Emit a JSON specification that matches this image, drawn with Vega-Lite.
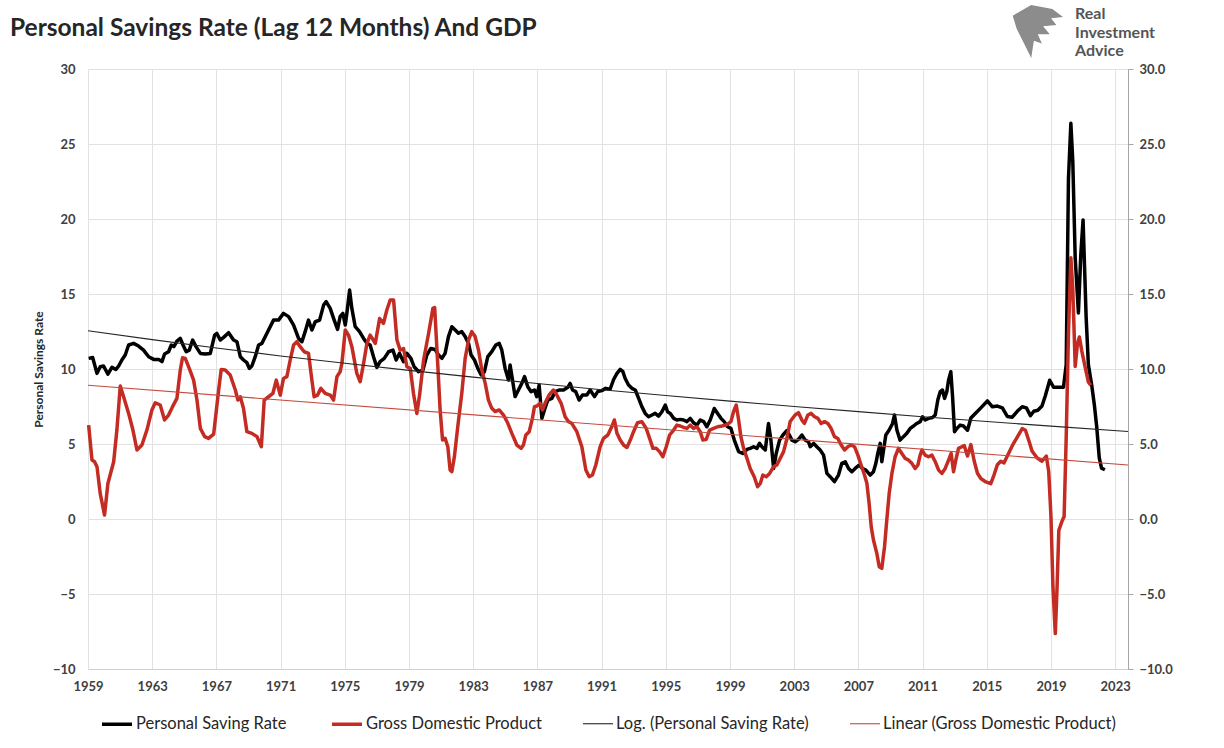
{
  "$schema": "https://vega.github.io/schema/vega-lite/v6.json",
  "width": 1040,
  "height": 600,
  "autosize": {"type": "none"},
  "padding": {"left": 88, "top": 69, "right": 96, "bottom": 79},
  "background": "white",
  "title": {"text": "Personal Savings Rate (Lag 12 Months) And GDP", "anchor": "start", "frame": "group", "dx": -78, "dy": 58, "offset": 22, "fontSize": 24.5, "font": "Lato", "fontWeight": "bold", "color": "#262626"},
  "config": {
    "view": {"stroke": null},
    "font": "Lato",
    "axis": {"labelFont": "Lato", "labelFontSize": 13, "labelColor": "#404040", "gridColor": "#e2e2e2", "gridWidth": 1, "titleFont": "Lato"},
    "legend": {"labelFont": "Lato"}
  },
  "data": {"values": [
    {"s":"Personal Saving Rate","t":1959.04,"v":10.71},{"s":"Personal Saving Rate","t":1959.29,"v":10.77},{"s":"Personal Saving Rate","t":1959.56,"v":9.71},{"s":"Personal Saving Rate","t":1959.76,"v":10.15},{"s":"Personal Saving Rate","t":1959.97,"v":10.2},{"s":"Personal Saving Rate","t":1960.24,"v":9.66},{"s":"Personal Saving Rate","t":1960.49,"v":10.11},{"s":"Personal Saving Rate","t":1960.74,"v":9.97},{"s":"Personal Saving Rate","t":1960.91,"v":10.2},{"s":"Personal Saving Rate","t":1961.11,"v":10.6},{"s":"Personal Saving Rate","t":1961.32,"v":10.93},{"s":"Personal Saving Rate","t":1961.53,"v":11.6},{"s":"Personal Saving Rate","t":1961.84,"v":11.71},{"s":"Personal Saving Rate","t":1962.15,"v":11.53},{"s":"Personal Saving Rate","t":1962.46,"v":11.26},{"s":"Personal Saving Rate","t":1962.78,"v":10.82},{"s":"Personal Saving Rate","t":1963.09,"v":10.64},{"s":"Personal Saving Rate","t":1963.4,"v":10.64},{"s":"Personal Saving Rate","t":1963.61,"v":10.49},{"s":"Personal Saving Rate","t":1963.77,"v":11.0},{"s":"Personal Saving Rate","t":1964.02,"v":11.15},{"s":"Personal Saving Rate","t":1964.19,"v":11.6},{"s":"Personal Saving Rate","t":1964.35,"v":11.49},{"s":"Personal Saving Rate","t":1964.54,"v":11.86},{"s":"Personal Saving Rate","t":1964.75,"v":12.04},{"s":"Personal Saving Rate","t":1964.92,"v":11.6},{"s":"Personal Saving Rate","t":1965.12,"v":11.15},{"s":"Personal Saving Rate","t":1965.31,"v":11.26},{"s":"Personal Saving Rate","t":1965.52,"v":11.93},{"s":"Personal Saving Rate","t":1965.73,"v":11.49},{"s":"Personal Saving Rate","t":1966.0,"v":11.04},{"s":"Personal Saving Rate","t":1966.31,"v":11.0},{"s":"Personal Saving Rate","t":1966.62,"v":11.04},{"s":"Personal Saving Rate","t":1966.89,"v":12.26},{"s":"Personal Saving Rate","t":1967.03,"v":12.37},{"s":"Personal Saving Rate","t":1967.24,"v":11.93},{"s":"Personal Saving Rate","t":1967.45,"v":12.11},{"s":"Personal Saving Rate","t":1967.76,"v":12.42},{"s":"Personal Saving Rate","t":1968.07,"v":11.93},{"s":"Personal Saving Rate","t":1968.28,"v":11.82},{"s":"Personal Saving Rate","t":1968.49,"v":10.82},{"s":"Personal Saving Rate","t":1968.69,"v":10.6},{"s":"Personal Saving Rate","t":1968.9,"v":10.42},{"s":"Personal Saving Rate","t":1969.05,"v":10.04},{"s":"Personal Saving Rate","t":1969.21,"v":10.2},{"s":"Personal Saving Rate","t":1969.42,"v":10.82},{"s":"Personal Saving Rate","t":1969.63,"v":11.6},{"s":"Personal Saving Rate","t":1969.84,"v":11.71},{"s":"Personal Saving Rate","t":1969.94,"v":11.93},{"s":"Personal Saving Rate","t":1970.25,"v":12.6},{"s":"Personal Saving Rate","t":1970.56,"v":13.26},{"s":"Personal Saving Rate","t":1970.87,"v":13.26},{"s":"Personal Saving Rate","t":1971.18,"v":13.71},{"s":"Personal Saving Rate","t":1971.5,"v":13.49},{"s":"Personal Saving Rate","t":1971.81,"v":12.93},{"s":"Personal Saving Rate","t":1972.12,"v":12.04},{"s":"Personal Saving Rate","t":1972.33,"v":11.82},{"s":"Personal Saving Rate","t":1972.53,"v":12.49},{"s":"Personal Saving Rate","t":1972.74,"v":13.26},{"s":"Personal Saving Rate","t":1972.95,"v":12.6},{"s":"Personal Saving Rate","t":1973.16,"v":13.15},{"s":"Personal Saving Rate","t":1973.43,"v":13.26},{"s":"Personal Saving Rate","t":1973.68,"v":14.26},{"s":"Personal Saving Rate","t":1973.84,"v":14.49},{"s":"Personal Saving Rate","t":1974.09,"v":14.04},{"s":"Personal Saving Rate","t":1974.34,"v":13.26},{"s":"Personal Saving Rate","t":1974.55,"v":12.64},{"s":"Personal Saving Rate","t":1974.71,"v":13.49},{"s":"Personal Saving Rate","t":1974.88,"v":13.71},{"s":"Personal Saving Rate","t":1975.03,"v":12.93},{"s":"Personal Saving Rate","t":1975.13,"v":13.71},{"s":"Personal Saving Rate","t":1975.3,"v":15.26},{"s":"Personal Saving Rate","t":1975.44,"v":14.04},{"s":"Personal Saving Rate","t":1975.65,"v":12.82},{"s":"Personal Saving Rate","t":1975.92,"v":12.49},{"s":"Personal Saving Rate","t":1976.17,"v":12.04},{"s":"Personal Saving Rate","t":1976.38,"v":11.71},{"s":"Personal Saving Rate","t":1976.58,"v":11.6},{"s":"Personal Saving Rate","t":1976.79,"v":10.82},{"s":"Personal Saving Rate","t":1977.0,"v":10.11},{"s":"Personal Saving Rate","t":1977.2,"v":10.49},{"s":"Personal Saving Rate","t":1977.46,"v":10.71},{"s":"Personal Saving Rate","t":1977.73,"v":11.15},{"s":"Personal Saving Rate","t":1978.0,"v":11.26},{"s":"Personal Saving Rate","t":1978.2,"v":10.6},{"s":"Personal Saving Rate","t":1978.41,"v":11.04},{"s":"Personal Saving Rate","t":1978.66,"v":10.49},{"s":"Personal Saving Rate","t":1978.87,"v":11.04},{"s":"Personal Saving Rate","t":1979.12,"v":10.71},{"s":"Personal Saving Rate","t":1979.32,"v":10.15},{"s":"Personal Saving Rate","t":1979.6,"v":9.82},{"s":"Personal Saving Rate","t":1979.87,"v":9.93},{"s":"Personal Saving Rate","t":1980.11,"v":10.93},{"s":"Personal Saving Rate","t":1980.36,"v":11.37},{"s":"Personal Saving Rate","t":1980.63,"v":11.3},{"s":"Personal Saving Rate","t":1980.84,"v":10.93},{"s":"Personal Saving Rate","t":1981.05,"v":10.71},{"s":"Personal Saving Rate","t":1981.25,"v":11.04},{"s":"Personal Saving Rate","t":1981.46,"v":12.16},{"s":"Personal Saving Rate","t":1981.67,"v":12.82},{"s":"Personal Saving Rate","t":1981.88,"v":12.6},{"s":"Personal Saving Rate","t":1982.08,"v":12.38},{"s":"Personal Saving Rate","t":1982.29,"v":12.49},{"s":"Personal Saving Rate","t":1982.5,"v":12.16},{"s":"Personal Saving Rate","t":1982.71,"v":11.71},{"s":"Personal Saving Rate","t":1982.87,"v":10.93},{"s":"Personal Saving Rate","t":1983.08,"v":10.6},{"s":"Personal Saving Rate","t":1983.29,"v":10.04},{"s":"Personal Saving Rate","t":1983.5,"v":9.6},{"s":"Personal Saving Rate","t":1983.7,"v":9.82},{"s":"Personal Saving Rate","t":1983.91,"v":10.82},{"s":"Personal Saving Rate","t":1984.16,"v":11.16},{"s":"Personal Saving Rate","t":1984.41,"v":11.6},{"s":"Personal Saving Rate","t":1984.62,"v":11.71},{"s":"Personal Saving Rate","t":1984.78,"v":11.27},{"s":"Personal Saving Rate","t":1984.99,"v":10.04},{"s":"Personal Saving Rate","t":1985.2,"v":9.27},{"s":"Personal Saving Rate","t":1985.3,"v":10.27},{"s":"Personal Saving Rate","t":1985.45,"v":9.27},{"s":"Personal Saving Rate","t":1985.61,"v":8.16},{"s":"Personal Saving Rate","t":1985.82,"v":8.6},{"s":"Personal Saving Rate","t":1986.03,"v":9.04},{"s":"Personal Saving Rate","t":1986.2,"v":9.49},{"s":"Personal Saving Rate","t":1986.4,"v":8.82},{"s":"Personal Saving Rate","t":1986.61,"v":8.49},{"s":"Personal Saving Rate","t":1986.82,"v":8.6},{"s":"Personal Saving Rate","t":1986.96,"v":8.16},{"s":"Personal Saving Rate","t":1987.11,"v":8.93},{"s":"Personal Saving Rate","t":1987.28,"v":6.71},{"s":"Personal Saving Rate","t":1987.44,"v":7.27},{"s":"Personal Saving Rate","t":1987.65,"v":7.93},{"s":"Personal Saving Rate","t":1987.9,"v":8.04},{"s":"Personal Saving Rate","t":1988.11,"v":8.49},{"s":"Personal Saving Rate","t":1988.36,"v":8.6},{"s":"Personal Saving Rate","t":1988.63,"v":8.6},{"s":"Personal Saving Rate","t":1988.9,"v":8.78},{"s":"Personal Saving Rate","t":1989.04,"v":9.04},{"s":"Personal Saving Rate","t":1989.19,"v":8.6},{"s":"Personal Saving Rate","t":1989.39,"v":8.49},{"s":"Personal Saving Rate","t":1989.6,"v":7.93},{"s":"Personal Saving Rate","t":1989.81,"v":8.27},{"s":"Personal Saving Rate","t":1990.08,"v":8.27},{"s":"Personal Saving Rate","t":1990.29,"v":8.6},{"s":"Personal Saving Rate","t":1990.56,"v":8.16},{"s":"Personal Saving Rate","t":1990.76,"v":8.49},{"s":"Personal Saving Rate","t":1991.01,"v":8.56},{"s":"Personal Saving Rate","t":1991.26,"v":8.71},{"s":"Personal Saving Rate","t":1991.53,"v":8.65},{"s":"Personal Saving Rate","t":1991.75,"v":9.3},{"s":"Personal Saving Rate","t":1991.96,"v":9.71},{"s":"Personal Saving Rate","t":1992.16,"v":9.97},{"s":"Personal Saving Rate","t":1992.33,"v":9.82},{"s":"Personal Saving Rate","t":1992.47,"v":9.37},{"s":"Personal Saving Rate","t":1992.68,"v":8.93},{"s":"Personal Saving Rate","t":1992.89,"v":8.71},{"s":"Personal Saving Rate","t":1993.1,"v":8.6},{"s":"Personal Saving Rate","t":1993.31,"v":8.04},{"s":"Personal Saving Rate","t":1993.51,"v":7.49},{"s":"Personal Saving Rate","t":1993.72,"v":7.04},{"s":"Personal Saving Rate","t":1993.93,"v":6.82},{"s":"Personal Saving Rate","t":1994.14,"v":6.93},{"s":"Personal Saving Rate","t":1994.34,"v":7.04},{"s":"Personal Saving Rate","t":1994.55,"v":6.86},{"s":"Personal Saving Rate","t":1994.76,"v":7.15},{"s":"Personal Saving Rate","t":1994.97,"v":7.6},{"s":"Personal Saving Rate","t":1995.11,"v":7.15},{"s":"Personal Saving Rate","t":1995.28,"v":7.04},{"s":"Personal Saving Rate","t":1995.49,"v":6.71},{"s":"Personal Saving Rate","t":1995.69,"v":6.6},{"s":"Personal Saving Rate","t":1995.9,"v":6.64},{"s":"Personal Saving Rate","t":1996.11,"v":6.6},{"s":"Personal Saving Rate","t":1996.32,"v":6.49},{"s":"Personal Saving Rate","t":1996.52,"v":6.71},{"s":"Personal Saving Rate","t":1996.73,"v":6.42},{"s":"Personal Saving Rate","t":1996.94,"v":6.26},{"s":"Personal Saving Rate","t":1997.15,"v":6.6},{"s":"Personal Saving Rate","t":1997.36,"v":6.49},{"s":"Personal Saving Rate","t":1997.56,"v":6.15},{"s":"Personal Saving Rate","t":1997.77,"v":6.6},{"s":"Personal Saving Rate","t":1998.02,"v":7.37},{"s":"Personal Saving Rate","t":1998.23,"v":7.04},{"s":"Personal Saving Rate","t":1998.44,"v":6.71},{"s":"Personal Saving Rate","t":1998.64,"v":6.49},{"s":"Personal Saving Rate","t":1998.85,"v":6.15},{"s":"Personal Saving Rate","t":1999.06,"v":6.04},{"s":"Personal Saving Rate","t":1999.27,"v":5.26},{"s":"Personal Saving Rate","t":1999.54,"v":4.49},{"s":"Personal Saving Rate","t":1999.8,"v":4.37},{"s":"Personal Saving Rate","t":2000.06,"v":4.64},{"s":"Personal Saving Rate","t":2000.26,"v":4.71},{"s":"Personal Saving Rate","t":2000.47,"v":4.82},{"s":"Personal Saving Rate","t":2000.68,"v":4.71},{"s":"Personal Saving Rate","t":2000.84,"v":5.04},{"s":"Personal Saving Rate","t":2000.99,"v":4.82},{"s":"Personal Saving Rate","t":2001.2,"v":4.6},{"s":"Personal Saving Rate","t":2001.4,"v":6.37},{"s":"Personal Saving Rate","t":2001.55,"v":5.26},{"s":"Personal Saving Rate","t":2001.72,"v":3.37},{"s":"Personal Saving Rate","t":2001.88,"v":4.37},{"s":"Personal Saving Rate","t":2002.09,"v":5.26},{"s":"Personal Saving Rate","t":2002.3,"v":5.6},{"s":"Personal Saving Rate","t":2002.55,"v":5.9},{"s":"Personal Saving Rate","t":2002.7,"v":5.6},{"s":"Personal Saving Rate","t":2002.86,"v":5.26},{"s":"Personal Saving Rate","t":2003.06,"v":5.15},{"s":"Personal Saving Rate","t":2003.27,"v":5.31},{"s":"Personal Saving Rate","t":2003.48,"v":5.6},{"s":"Personal Saving Rate","t":2003.69,"v":5.26},{"s":"Personal Saving Rate","t":2003.89,"v":5.15},{"s":"Personal Saving Rate","t":2004.0,"v":4.82},{"s":"Personal Saving Rate","t":2004.21,"v":5.04},{"s":"Personal Saving Rate","t":2004.41,"v":4.82},{"s":"Personal Saving Rate","t":2004.62,"v":4.6},{"s":"Personal Saving Rate","t":2004.83,"v":4.26},{"s":"Personal Saving Rate","t":2005.04,"v":3.04},{"s":"Personal Saving Rate","t":2005.24,"v":2.82},{"s":"Personal Saving Rate","t":2005.51,"v":2.49},{"s":"Personal Saving Rate","t":2005.76,"v":2.93},{"s":"Personal Saving Rate","t":2005.97,"v":3.71},{"s":"Personal Saving Rate","t":2006.18,"v":3.82},{"s":"Personal Saving Rate","t":2006.39,"v":3.37},{"s":"Personal Saving Rate","t":2006.59,"v":3.15},{"s":"Personal Saving Rate","t":2006.8,"v":3.37},{"s":"Personal Saving Rate","t":2007.05,"v":3.6},{"s":"Personal Saving Rate","t":2007.26,"v":3.37},{"s":"Personal Saving Rate","t":2007.47,"v":3.26},{"s":"Personal Saving Rate","t":2007.74,"v":2.93},{"s":"Personal Saving Rate","t":2007.94,"v":3.15},{"s":"Personal Saving Rate","t":2008.09,"v":3.71},{"s":"Personal Saving Rate","t":2008.21,"v":4.37},{"s":"Personal Saving Rate","t":2008.36,"v":5.04},{"s":"Personal Saving Rate","t":2008.46,"v":3.82},{"s":"Personal Saving Rate","t":2008.57,"v":4.6},{"s":"Personal Saving Rate","t":2008.71,"v":5.6},{"s":"Personal Saving Rate","t":2008.92,"v":5.93},{"s":"Personal Saving Rate","t":2009.13,"v":6.37},{"s":"Personal Saving Rate","t":2009.25,"v":6.93},{"s":"Personal Saving Rate","t":2009.4,"v":5.93},{"s":"Personal Saving Rate","t":2009.6,"v":5.26},{"s":"Personal Saving Rate","t":2009.81,"v":5.49},{"s":"Personal Saving Rate","t":2010.02,"v":5.71},{"s":"Personal Saving Rate","t":2010.23,"v":6.04},{"s":"Personal Saving Rate","t":2010.44,"v":6.2},{"s":"Personal Saving Rate","t":2010.64,"v":6.37},{"s":"Personal Saving Rate","t":2010.85,"v":6.49},{"s":"Personal Saving Rate","t":2011.0,"v":6.82},{"s":"Personal Saving Rate","t":2011.16,"v":6.6},{"s":"Personal Saving Rate","t":2011.37,"v":6.71},{"s":"Personal Saving Rate","t":2011.62,"v":6.77},{"s":"Personal Saving Rate","t":2011.79,"v":6.93},{"s":"Personal Saving Rate","t":2011.95,"v":7.93},{"s":"Personal Saving Rate","t":2012.1,"v":8.49},{"s":"Personal Saving Rate","t":2012.24,"v":8.6},{"s":"Personal Saving Rate","t":2012.37,"v":8.04},{"s":"Personal Saving Rate","t":2012.51,"v":8.49},{"s":"Personal Saving Rate","t":2012.62,"v":9.26},{"s":"Personal Saving Rate","t":2012.76,"v":9.82},{"s":"Personal Saving Rate","t":2012.87,"v":8.15},{"s":"Personal Saving Rate","t":2012.99,"v":5.82},{"s":"Personal Saving Rate","t":2013.14,"v":6.04},{"s":"Personal Saving Rate","t":2013.34,"v":6.26},{"s":"Personal Saving Rate","t":2013.55,"v":6.2},{"s":"Personal Saving Rate","t":2013.8,"v":5.92},{"s":"Personal Saving Rate","t":2014.01,"v":6.73},{"s":"Personal Saving Rate","t":2014.32,"v":7.07},{"s":"Personal Saving Rate","t":2014.63,"v":7.41},{"s":"Personal Saving Rate","t":2015.04,"v":7.87},{"s":"Personal Saving Rate","t":2015.35,"v":7.48},{"s":"Personal Saving Rate","t":2015.66,"v":7.53},{"s":"Personal Saving Rate","t":2015.97,"v":7.41},{"s":"Personal Saving Rate","t":2016.28,"v":6.84},{"s":"Personal Saving Rate","t":2016.59,"v":6.79},{"s":"Personal Saving Rate","t":2016.9,"v":7.18},{"s":"Personal Saving Rate","t":2017.21,"v":7.48},{"s":"Personal Saving Rate","t":2017.47,"v":7.41},{"s":"Personal Saving Rate","t":2017.72,"v":6.89},{"s":"Personal Saving Rate","t":2017.93,"v":7.18},{"s":"Personal Saving Rate","t":2018.18,"v":7.25},{"s":"Personal Saving Rate","t":2018.44,"v":7.53},{"s":"Personal Saving Rate","t":2018.65,"v":8.22},{"s":"Personal Saving Rate","t":2018.92,"v":9.25},{"s":"Personal Saving Rate","t":2019.16,"v":8.79},{"s":"Personal Saving Rate","t":2019.47,"v":8.79},{"s":"Personal Saving Rate","t":2019.78,"v":8.79},{"s":"Personal Saving Rate","t":2019.95,"v":10.29},{"s":"Personal Saving Rate","t":2020.09,"v":22.7},{"s":"Personal Saving Rate","t":2020.24,"v":26.38},{"s":"Personal Saving Rate","t":2020.36,"v":23.85},{"s":"Personal Saving Rate","t":2020.51,"v":17.41},{"s":"Personal Saving Rate","t":2020.71,"v":13.74},{"s":"Personal Saving Rate","t":2020.86,"v":17.64},{"s":"Personal Saving Rate","t":2021.0,"v":19.94},{"s":"Personal Saving Rate","t":2021.19,"v":13.51},{"s":"Personal Saving Rate","t":2021.33,"v":10.29},{"s":"Personal Saving Rate","t":2021.54,"v":8.91},{"s":"Personal Saving Rate","t":2021.7,"v":7.64},{"s":"Personal Saving Rate","t":2021.85,"v":6.15},{"s":"Personal Saving Rate","t":2022.01,"v":4.08},{"s":"Personal Saving Rate","t":2022.15,"v":3.39},{"s":"Personal Saving Rate","t":2022.36,"v":3.28},
    {"s":"Gross Domestic Product","t":1959.04,"v":6.26},{"s":"Gross Domestic Product","t":1959.25,"v":3.93},{"s":"Gross Domestic Product","t":1959.41,"v":3.82},{"s":"Gross Domestic Product","t":1959.56,"v":3.49},{"s":"Gross Domestic Product","t":1959.76,"v":1.71},{"s":"Gross Domestic Product","t":1960.03,"v":0.26},{"s":"Gross Domestic Product","t":1960.24,"v":2.37},{"s":"Gross Domestic Product","t":1960.6,"v":3.82},{"s":"Gross Domestic Product","t":1960.8,"v":5.93},{"s":"Gross Domestic Product","t":1961.01,"v":8.86},{"s":"Gross Domestic Product","t":1961.22,"v":8.15},{"s":"Gross Domestic Product","t":1961.53,"v":7.04},{"s":"Gross Domestic Product","t":1961.8,"v":5.93},{"s":"Gross Domestic Product","t":1962.05,"v":4.6},{"s":"Gross Domestic Product","t":1962.36,"v":4.93},{"s":"Gross Domestic Product","t":1962.67,"v":5.93},{"s":"Gross Domestic Product","t":1962.98,"v":7.26},{"s":"Gross Domestic Product","t":1963.19,"v":7.75},{"s":"Gross Domestic Product","t":1963.5,"v":7.6},{"s":"Gross Domestic Product","t":1963.77,"v":6.6},{"s":"Gross Domestic Product","t":1964.02,"v":6.93},{"s":"Gross Domestic Product","t":1964.27,"v":7.49},{"s":"Gross Domestic Product","t":1964.54,"v":8.04},{"s":"Gross Domestic Product","t":1964.75,"v":9.93},{"s":"Gross Domestic Product","t":1964.89,"v":10.75},{"s":"Gross Domestic Product","t":1965.06,"v":10.71},{"s":"Gross Domestic Product","t":1965.31,"v":10.04},{"s":"Gross Domestic Product","t":1965.58,"v":9.26},{"s":"Gross Domestic Product","t":1965.79,"v":7.93},{"s":"Gross Domestic Product","t":1966.0,"v":6.04},{"s":"Gross Domestic Product","t":1966.27,"v":5.49},{"s":"Gross Domestic Product","t":1966.51,"v":5.37},{"s":"Gross Domestic Product","t":1966.83,"v":5.66},{"s":"Gross Domestic Product","t":1967.14,"v":8.6},{"s":"Gross Domestic Product","t":1967.3,"v":9.97},{"s":"Gross Domestic Product","t":1967.55,"v":9.93},{"s":"Gross Domestic Product","t":1967.86,"v":9.6},{"s":"Gross Domestic Product","t":1968.18,"v":8.6},{"s":"Gross Domestic Product","t":1968.34,"v":7.93},{"s":"Gross Domestic Product","t":1968.49,"v":8.15},{"s":"Gross Domestic Product","t":1968.69,"v":7.37},{"s":"Gross Domestic Product","t":1968.9,"v":5.82},{"s":"Gross Domestic Product","t":1969.21,"v":5.71},{"s":"Gross Domestic Product","t":1969.53,"v":5.49},{"s":"Gross Domestic Product","t":1969.8,"v":4.82},{"s":"Gross Domestic Product","t":1969.98,"v":7.93},{"s":"Gross Domestic Product","t":1970.25,"v":8.15},{"s":"Gross Domestic Product","t":1970.52,"v":8.37},{"s":"Gross Domestic Product","t":1970.73,"v":9.26},{"s":"Gross Domestic Product","t":1970.98,"v":8.26},{"s":"Gross Domestic Product","t":1971.18,"v":9.37},{"s":"Gross Domestic Product","t":1971.39,"v":9.49},{"s":"Gross Domestic Product","t":1971.6,"v":10.6},{"s":"Gross Domestic Product","t":1971.81,"v":11.6},{"s":"Gross Domestic Product","t":1972.01,"v":11.82},{"s":"Gross Domestic Product","t":1972.22,"v":11.49},{"s":"Gross Domestic Product","t":1972.47,"v":11.15},{"s":"Gross Domestic Product","t":1972.74,"v":11.04},{"s":"Gross Domestic Product","t":1972.95,"v":9.26},{"s":"Gross Domestic Product","t":1973.09,"v":8.15},{"s":"Gross Domestic Product","t":1973.3,"v":8.26},{"s":"Gross Domestic Product","t":1973.51,"v":8.71},{"s":"Gross Domestic Product","t":1973.78,"v":8.37},{"s":"Gross Domestic Product","t":1974.09,"v":8.26},{"s":"Gross Domestic Product","t":1974.3,"v":7.93},{"s":"Gross Domestic Product","t":1974.51,"v":9.49},{"s":"Gross Domestic Product","t":1974.71,"v":9.82},{"s":"Gross Domestic Product","t":1974.82,"v":10.37},{"s":"Gross Domestic Product","t":1975.03,"v":12.6},{"s":"Gross Domestic Product","t":1975.23,"v":12.26},{"s":"Gross Domestic Product","t":1975.44,"v":11.49},{"s":"Gross Domestic Product","t":1975.75,"v":9.71},{"s":"Gross Domestic Product","t":1975.96,"v":9.15},{"s":"Gross Domestic Product","t":1976.17,"v":10.37},{"s":"Gross Domestic Product","t":1976.38,"v":11.71},{"s":"Gross Domestic Product","t":1976.58,"v":12.26},{"s":"Gross Domestic Product","t":1976.9,"v":11.71},{"s":"Gross Domestic Product","t":1977.17,"v":13.37},{"s":"Gross Domestic Product","t":1977.41,"v":13.04},{"s":"Gross Domestic Product","t":1977.62,"v":13.93},{"s":"Gross Domestic Product","t":1977.83,"v":14.6},{"s":"Gross Domestic Product","t":1978.04,"v":14.6},{"s":"Gross Domestic Product","t":1978.25,"v":11.93},{"s":"Gross Domestic Product","t":1978.45,"v":11.26},{"s":"Gross Domestic Product","t":1978.66,"v":11.37},{"s":"Gross Domestic Product","t":1978.87,"v":10.15},{"s":"Gross Domestic Product","t":1979.08,"v":10.04},{"s":"Gross Domestic Product","t":1979.28,"v":8.37},{"s":"Gross Domestic Product","t":1979.49,"v":7.04},{"s":"Gross Domestic Product","t":1979.66,"v":8.26},{"s":"Gross Domestic Product","t":1979.91,"v":10.6},{"s":"Gross Domestic Product","t":1980.22,"v":12.37},{"s":"Gross Domestic Product","t":1980.49,"v":14.04},{"s":"Gross Domestic Product","t":1980.6,"v":14.1},{"s":"Gross Domestic Product","t":1980.8,"v":10.16},{"s":"Gross Domestic Product","t":1980.94,"v":7.27},{"s":"Gross Domestic Product","t":1981.09,"v":5.27},{"s":"Gross Domestic Product","t":1981.25,"v":5.38},{"s":"Gross Domestic Product","t":1981.42,"v":4.82},{"s":"Gross Domestic Product","t":1981.56,"v":3.27},{"s":"Gross Domestic Product","t":1981.67,"v":3.16},{"s":"Gross Domestic Product","t":1981.83,"v":4.16},{"s":"Gross Domestic Product","t":1982.04,"v":6.16},{"s":"Gross Domestic Product","t":1982.29,"v":8.38},{"s":"Gross Domestic Product","t":1982.5,"v":10.71},{"s":"Gross Domestic Product","t":1982.71,"v":11.93},{"s":"Gross Domestic Product","t":1982.91,"v":12.49},{"s":"Gross Domestic Product","t":1983.12,"v":12.16},{"s":"Gross Domestic Product","t":1983.33,"v":11.27},{"s":"Gross Domestic Product","t":1983.54,"v":9.93},{"s":"Gross Domestic Product","t":1983.75,"v":9.04},{"s":"Gross Domestic Product","t":1983.95,"v":7.93},{"s":"Gross Domestic Product","t":1984.16,"v":7.38},{"s":"Gross Domestic Product","t":1984.37,"v":7.16},{"s":"Gross Domestic Product","t":1984.62,"v":7.27},{"s":"Gross Domestic Product","t":1984.89,"v":6.93},{"s":"Gross Domestic Product","t":1985.16,"v":6.38},{"s":"Gross Domestic Product","t":1985.41,"v":5.71},{"s":"Gross Domestic Product","t":1985.72,"v":4.93},{"s":"Gross Domestic Product","t":1985.99,"v":4.71},{"s":"Gross Domestic Product","t":1986.13,"v":4.93},{"s":"Gross Domestic Product","t":1986.28,"v":5.6},{"s":"Gross Domestic Product","t":1986.49,"v":5.82},{"s":"Gross Domestic Product","t":1986.69,"v":6.71},{"s":"Gross Domestic Product","t":1986.82,"v":7.49},{"s":"Gross Domestic Product","t":1986.96,"v":7.53},{"s":"Gross Domestic Product","t":1987.17,"v":7.71},{"s":"Gross Domestic Product","t":1987.32,"v":7.27},{"s":"Gross Domestic Product","t":1987.52,"v":7.82},{"s":"Gross Domestic Product","t":1987.73,"v":8.27},{"s":"Gross Domestic Product","t":1988.0,"v":8.6},{"s":"Gross Domestic Product","t":1988.21,"v":8.27},{"s":"Gross Domestic Product","t":1988.48,"v":7.71},{"s":"Gross Domestic Product","t":1988.73,"v":6.82},{"s":"Gross Domestic Product","t":1988.94,"v":6.49},{"s":"Gross Domestic Product","t":1989.14,"v":6.38},{"s":"Gross Domestic Product","t":1989.46,"v":5.82},{"s":"Gross Domestic Product","t":1989.77,"v":4.82},{"s":"Gross Domestic Product","t":1990.02,"v":3.27},{"s":"Gross Domestic Product","t":1990.23,"v":2.82},{"s":"Gross Domestic Product","t":1990.43,"v":2.93},{"s":"Gross Domestic Product","t":1990.64,"v":3.6},{"s":"Gross Domestic Product","t":1990.91,"v":4.82},{"s":"Gross Domestic Product","t":1991.12,"v":5.38},{"s":"Gross Domestic Product","t":1991.39,"v":5.6},{"s":"Gross Domestic Product","t":1991.64,"v":6.16},{"s":"Gross Domestic Product","t":1991.8,"v":6.6},{"s":"Gross Domestic Product","t":1991.96,"v":5.71},{"s":"Gross Domestic Product","t":1992.16,"v":5.26},{"s":"Gross Domestic Product","t":1992.37,"v":4.93},{"s":"Gross Domestic Product","t":1992.58,"v":4.77},{"s":"Gross Domestic Product","t":1992.79,"v":5.26},{"s":"Gross Domestic Product","t":1992.99,"v":5.82},{"s":"Gross Domestic Product","t":1993.24,"v":6.42},{"s":"Gross Domestic Product","t":1993.51,"v":6.49},{"s":"Gross Domestic Product","t":1993.78,"v":6.04},{"s":"Gross Domestic Product","t":1994.03,"v":5.26},{"s":"Gross Domestic Product","t":1994.2,"v":4.71},{"s":"Gross Domestic Product","t":1994.41,"v":4.71},{"s":"Gross Domestic Product","t":1994.61,"v":4.49},{"s":"Gross Domestic Product","t":1994.82,"v":4.15},{"s":"Gross Domestic Product","t":1995.03,"v":4.82},{"s":"Gross Domestic Product","t":1995.24,"v":5.6},{"s":"Gross Domestic Product","t":1995.49,"v":5.93},{"s":"Gross Domestic Product","t":1995.69,"v":6.26},{"s":"Gross Domestic Product","t":1995.9,"v":6.2},{"s":"Gross Domestic Product","t":1996.11,"v":6.11},{"s":"Gross Domestic Product","t":1996.32,"v":6.04},{"s":"Gross Domestic Product","t":1996.52,"v":6.26},{"s":"Gross Domestic Product","t":1996.73,"v":6.04},{"s":"Gross Domestic Product","t":1996.94,"v":6.15},{"s":"Gross Domestic Product","t":1997.15,"v":5.82},{"s":"Gross Domestic Product","t":1997.31,"v":5.26},{"s":"Gross Domestic Product","t":1997.52,"v":5.31},{"s":"Gross Domestic Product","t":1997.73,"v":5.93},{"s":"Gross Domestic Product","t":1997.98,"v":6.04},{"s":"Gross Domestic Product","t":1998.23,"v":6.15},{"s":"Gross Domestic Product","t":1998.5,"v":6.2},{"s":"Gross Domestic Product","t":1998.71,"v":6.26},{"s":"Gross Domestic Product","t":1998.91,"v":6.37},{"s":"Gross Domestic Product","t":1999.06,"v":6.49},{"s":"Gross Domestic Product","t":1999.22,"v":7.15},{"s":"Gross Domestic Product","t":1999.39,"v":7.6},{"s":"Gross Domestic Product","t":1999.54,"v":6.6},{"s":"Gross Domestic Product","t":1999.68,"v":5.49},{"s":"Gross Domestic Product","t":1999.85,"v":4.71},{"s":"Gross Domestic Product","t":2000.06,"v":4.04},{"s":"Gross Domestic Product","t":2000.26,"v":3.37},{"s":"Gross Domestic Product","t":2000.51,"v":2.82},{"s":"Gross Domestic Product","t":2000.72,"v":2.15},{"s":"Gross Domestic Product","t":2000.89,"v":2.37},{"s":"Gross Domestic Product","t":2001.05,"v":2.93},{"s":"Gross Domestic Product","t":2001.26,"v":2.82},{"s":"Gross Domestic Product","t":2001.47,"v":3.04},{"s":"Gross Domestic Product","t":2001.72,"v":3.49},{"s":"Gross Domestic Product","t":2001.92,"v":3.6},{"s":"Gross Domestic Product","t":2002.13,"v":4.04},{"s":"Gross Domestic Product","t":2002.34,"v":4.49},{"s":"Gross Domestic Product","t":2002.55,"v":5.37},{"s":"Gross Domestic Product","t":2002.75,"v":6.5},{"s":"Gross Domestic Product","t":2003.06,"v":6.93},{"s":"Gross Domestic Product","t":2003.27,"v":7.09},{"s":"Gross Domestic Product","t":2003.48,"v":6.6},{"s":"Gross Domestic Product","t":2003.64,"v":6.37},{"s":"Gross Domestic Product","t":2003.85,"v":6.93},{"s":"Gross Domestic Product","t":2004.06,"v":7.04},{"s":"Gross Domestic Product","t":2004.27,"v":6.82},{"s":"Gross Domestic Product","t":2004.48,"v":6.71},{"s":"Gross Domestic Product","t":2004.68,"v":6.37},{"s":"Gross Domestic Product","t":2004.89,"v":6.49},{"s":"Gross Domestic Product","t":2005.1,"v":6.37},{"s":"Gross Domestic Product","t":2005.3,"v":6.04},{"s":"Gross Domestic Product","t":2005.51,"v":5.49},{"s":"Gross Domestic Product","t":2005.72,"v":5.37},{"s":"Gross Domestic Product","t":2005.93,"v":4.93},{"s":"Gross Domestic Product","t":2006.14,"v":4.6},{"s":"Gross Domestic Product","t":2006.34,"v":4.82},{"s":"Gross Domestic Product","t":2006.55,"v":4.93},{"s":"Gross Domestic Product","t":2006.76,"v":4.82},{"s":"Gross Domestic Product","t":2006.97,"v":4.26},{"s":"Gross Domestic Product","t":2007.17,"v":3.6},{"s":"Gross Domestic Product","t":2007.38,"v":2.93},{"s":"Gross Domestic Product","t":2007.53,"v":2.38},{"s":"Gross Domestic Product","t":2007.67,"v":1.04},{"s":"Gross Domestic Product","t":2007.8,"v":-0.51},{"s":"Gross Domestic Product","t":2007.94,"v":-1.4},{"s":"Gross Domestic Product","t":2008.15,"v":-2.29},{"s":"Gross Domestic Product","t":2008.3,"v":-3.18},{"s":"Gross Domestic Product","t":2008.46,"v":-3.29},{"s":"Gross Domestic Product","t":2008.63,"v":-1.85},{"s":"Gross Domestic Product","t":2008.77,"v":-0.07},{"s":"Gross Domestic Product","t":2008.92,"v":1.71},{"s":"Gross Domestic Product","t":2009.09,"v":3.04},{"s":"Gross Domestic Product","t":2009.29,"v":4.15},{"s":"Gross Domestic Product","t":2009.5,"v":4.71},{"s":"Gross Domestic Product","t":2009.71,"v":4.37},{"s":"Gross Domestic Product","t":2009.92,"v":4.04},{"s":"Gross Domestic Product","t":2010.12,"v":3.93},{"s":"Gross Domestic Product","t":2010.33,"v":3.71},{"s":"Gross Domestic Product","t":2010.54,"v":3.37},{"s":"Gross Domestic Product","t":2010.71,"v":3.6},{"s":"Gross Domestic Product","t":2010.85,"v":4.26},{"s":"Gross Domestic Product","t":2010.96,"v":4.6},{"s":"Gross Domestic Product","t":2011.16,"v":4.26},{"s":"Gross Domestic Product","t":2011.37,"v":4.15},{"s":"Gross Domestic Product","t":2011.58,"v":4.26},{"s":"Gross Domestic Product","t":2011.79,"v":3.82},{"s":"Gross Domestic Product","t":2012.0,"v":3.26},{"s":"Gross Domestic Product","t":2012.2,"v":3.04},{"s":"Gross Domestic Product","t":2012.41,"v":3.37},{"s":"Gross Domestic Product","t":2012.62,"v":3.93},{"s":"Gross Domestic Product","t":2012.78,"v":4.37},{"s":"Gross Domestic Product","t":2012.93,"v":3.15},{"s":"Gross Domestic Product","t":2013.07,"v":3.93},{"s":"Gross Domestic Product","t":2013.24,"v":4.71},{"s":"Gross Domestic Product","t":2013.45,"v":4.82},{"s":"Gross Domestic Product","t":2013.6,"v":4.89},{"s":"Gross Domestic Product","t":2013.8,"v":4.2},{"s":"Gross Domestic Product","t":2014.01,"v":4.96},{"s":"Gross Domestic Product","t":2014.22,"v":3.85},{"s":"Gross Domestic Product","t":2014.42,"v":3.05},{"s":"Gross Domestic Product","t":2014.63,"v":2.7},{"s":"Gross Domestic Product","t":2014.94,"v":2.47},{"s":"Gross Domestic Product","t":2015.25,"v":2.36},{"s":"Gross Domestic Product","t":2015.45,"v":2.93},{"s":"Gross Domestic Product","t":2015.66,"v":3.62},{"s":"Gross Domestic Product","t":2015.87,"v":3.85},{"s":"Gross Domestic Product","t":2016.07,"v":3.74},{"s":"Gross Domestic Product","t":2016.28,"v":4.2},{"s":"Gross Domestic Product","t":2016.59,"v":4.89},{"s":"Gross Domestic Product","t":2016.9,"v":5.46},{"s":"Gross Domestic Product","t":2017.21,"v":6.03},{"s":"Gross Domestic Product","t":2017.41,"v":5.92},{"s":"Gross Domestic Product","t":2017.62,"v":5.23},{"s":"Gross Domestic Product","t":2017.82,"v":4.54},{"s":"Gross Domestic Product","t":2018.13,"v":4.08},{"s":"Gross Domestic Product","t":2018.44,"v":3.85},{"s":"Gross Domestic Product","t":2018.71,"v":4.2},{"s":"Gross Domestic Product","t":2018.86,"v":3.16},{"s":"Gross Domestic Product","t":2019.0,"v":0.17},{"s":"Gross Domestic Product","t":2019.12,"v":-4.42},{"s":"Gross Domestic Product","t":2019.27,"v":-7.64},{"s":"Gross Domestic Product","t":2019.37,"v":-4.88},{"s":"Gross Domestic Product","t":2019.49,"v":-0.75},{"s":"Gross Domestic Product","t":2019.68,"v":-0.17},{"s":"Gross Domestic Product","t":2019.82,"v":0.17},{"s":"Gross Domestic Product","t":2019.95,"v":5.46},{"s":"Gross Domestic Product","t":2020.09,"v":12.36},{"s":"Gross Domestic Product","t":2020.24,"v":17.41},{"s":"Gross Domestic Product","t":2020.36,"v":15.34},{"s":"Gross Domestic Product","t":2020.51,"v":10.17},{"s":"Gross Domestic Product","t":2020.65,"v":11.67},{"s":"Gross Domestic Product","t":2020.77,"v":12.13},{"s":"Gross Domestic Product","t":2020.92,"v":11.21},{"s":"Gross Domestic Product","t":2021.12,"v":10.17},{"s":"Gross Domestic Product","t":2021.33,"v":9.14},{"s":"Gross Domestic Product","t":2021.48,"v":8.91},
    {"s":"Log. (Personal Saving Rate)","t":1959,"v":12.55},{"s":"Log. (Personal Saving Rate)","t":1963,"v":11.96},{"s":"Log. (Personal Saving Rate)","t":1967,"v":11.4},{"s":"Log. (Personal Saving Rate)","t":1971,"v":10.87},{"s":"Log. (Personal Saving Rate)","t":1975,"v":10.38},{"s":"Log. (Personal Saving Rate)","t":1979,"v":9.91},{"s":"Log. (Personal Saving Rate)","t":1983,"v":9.46},{"s":"Log. (Personal Saving Rate)","t":1987,"v":9.03},{"s":"Log. (Personal Saving Rate)","t":1991,"v":8.62},{"s":"Log. (Personal Saving Rate)","t":1995,"v":8.23},{"s":"Log. (Personal Saving Rate)","t":1999,"v":7.86},{"s":"Log. (Personal Saving Rate)","t":2003,"v":7.5},{"s":"Log. (Personal Saving Rate)","t":2007,"v":7.16},{"s":"Log. (Personal Saving Rate)","t":2011,"v":6.82},{"s":"Log. (Personal Saving Rate)","t":2015,"v":6.5},{"s":"Log. (Personal Saving Rate)","t":2019,"v":6.19},{"s":"Log. (Personal Saving Rate)","t":2023.8,"v":5.83},
    {"s":"Linear (Gross Domestic Product)","t":1959,"v":8.92},{"s":"Linear (Gross Domestic Product)","t":2023.8,"v":3.6}
  ]},
  "layer": [
    {
      "transform": [{"filter": "datum.s === 'Personal Saving Rate'"}],
      "mark": {"type": "line", "strokeJoin": "round"},
      "encoding": {
        "x": {"field": "t", "type": "quantitative", "scale": {"domain": [1959, 2023.8], "nice": false, "zero": false},
          "axis": {"title": null, "values": [1959,1963,1967,1971,1975,1979,1983,1987,1991,1995,1999,2003,2007,2011,2015,2019,2023], "format": "d", "grid": true, "domainColor": "#d0d0d0", "ticks": false, "labelPadding": 11, "labelFlush": false, "labelFontWeight": "bold"}},
        "y": {"field": "v", "type": "quantitative", "scale": {"domain": [-10, 30], "nice": false, "zero": false},
          "axis": {"orient": "left", "values": [-10,-5,0,5,10,15,20,25,30], "title": "Personal Savings Rate", "titleFontSize": 12, "titleFontWeight": "bold", "titleColor": "#262626", "titlePadding": 7, "grid": true, "domain": false, "ticks": false, "labelPadding": 13, "labelFontWeight": "bold"}},
        "color": {"field": "s", "type": "nominal", "scale": {"domain": ["Personal Saving Rate","Gross Domestic Product","Log. (Personal Saving Rate)","Linear (Gross Domestic Product)"], "range": ["#000000","#c42b22","#262626","#c44a3e"]},
          "legend": {"title": null, "orient": "none", "legendX": 12, "legendY": 638, "direction": "horizontal", "symbolType": "stroke", "symbolSize": 900, "labelFontSize": 16.5, "labelColor": "#262626", "labelOffset": 2, "columnPadding": 38, "labelLimit": 400}},
        "strokeWidth": {"field": "s", "type": "nominal", "scale": {"type": "ordinal", "domain": ["Personal Saving Rate","Gross Domestic Product","Log. (Personal Saving Rate)","Linear (Gross Domestic Product)"], "range": [3.5, 3.5, 1.1, 1.1]},
          "legend": {"title": null, "orient": "none", "legendX": 12, "legendY": 638, "direction": "horizontal", "symbolType": "stroke", "symbolSize": 900, "labelFontSize": 16.5, "labelColor": "#262626", "labelOffset": 2, "columnPadding": 38, "labelLimit": 400}}
      }
    },
    {
      "transform": [{"filter": "datum.s === 'Gross Domestic Product'"}],
      "mark": {"type": "line", "strokeJoin": "round"},
      "encoding": {
        "x": {"field": "t", "type": "quantitative", "scale": {"domain": [1959, 2023.8], "nice": false, "zero": false}},
        "y": {"field": "v", "type": "quantitative", "scale": {"domain": [-10, 30], "nice": false, "zero": false},
          "axis": {"orient": "right", "values": [-10,-5,0,5,10,15,20,25,30], "format": ".1f", "title": null, "grid": false, "domain": true, "domainColor": "#a6a6a6", "ticks": true, "tickColor": "#a6a6a6", "tickSize": 5, "labelPadding": 6, "labelFontWeight": "bold"}},
        "color": {"field": "s", "type": "nominal", "scale": {"domain": ["Personal Saving Rate","Gross Domestic Product","Log. (Personal Saving Rate)","Linear (Gross Domestic Product)"], "range": ["#000000","#c42b22","#262626","#c44a3e"]}},
        "strokeWidth": {"field": "s", "type": "nominal", "scale": {"type": "ordinal", "domain": ["Personal Saving Rate","Gross Domestic Product","Log. (Personal Saving Rate)","Linear (Gross Domestic Product)"], "range": [3.5, 3.5, 1.1, 1.1]}}
      }
    },
    {
      "transform": [{"filter": "datum.s === 'Log. (Personal Saving Rate)' || datum.s === 'Linear (Gross Domestic Product)'"}],
      "mark": {"type": "line"},
      "encoding": {
        "x": {"field": "t", "type": "quantitative", "scale": {"domain": [1959, 2023.8], "nice": false, "zero": false}},
        "y": {"field": "v", "type": "quantitative", "scale": {"domain": [-10, 30], "nice": false, "zero": false}, "axis": null},
        "color": {"field": "s", "type": "nominal", "scale": {"domain": ["Personal Saving Rate","Gross Domestic Product","Log. (Personal Saving Rate)","Linear (Gross Domestic Product)"], "range": ["#000000","#c42b22","#262626","#c44a3e"]}},
        "strokeWidth": {"field": "s", "type": "nominal", "scale": {"type": "ordinal", "domain": ["Personal Saving Rate","Gross Domestic Product","Log. (Personal Saving Rate)","Linear (Gross Domestic Product)"], "range": [3.5, 3.5, 1.1, 1.1]}}
      }
    },
    {
      "data": {"values": [{"label": "logo"}]},
      "mark": {"type": "text", "clip": false, "text": ["Real", "Investment", "Advice"], "align": "left", "baseline": "top", "font": "Lato", "fontSize": 16, "fontWeight": "bold", "fill": "#555555", "lineHeight": 18.5},
      "encoding": {
        "x": {"datum": 2020.5, "type": "quantitative", "scale": {"domain": [1959, 2023.8], "nice": false, "zero": false}},
        "y": {"datum": 34.2, "type": "quantitative", "scale": {"domain": [-10, 30], "nice": false, "zero": false}, "axis": null}
      }
    },
    {
      "data": {"values": [{"label": "eagle"}]},
      "mark": {"type": "point", "clip": false, "filled": true, "fill": "#8c8c8c", "opacity": 1, "size": 2800, "shape": "M -0.2 -1 L 0.6 -0.85 L 1 -0.55 L 0.55 -0.5 L 0.75 -0.25 L 0.25 -0.2 L 0.5 0.1 L 0.05 0.1 L 0.2 0.45 L -0.1 0.35 L -0.2 1 L -0.5 0.4 L -0.75 -0.1 L -0.9 -0.6 Z"},
      "encoding": {
        "x": {"datum": 2018.1, "type": "quantitative", "scale": {"domain": [1959, 2023.8], "nice": false, "zero": false}},
        "y": {"datum": 32.5, "type": "quantitative", "scale": {"domain": [-10, 30], "nice": false, "zero": false}, "axis": null}
      }
    }
  ],
  "resolve": {"scale": {"y": "independent"}}
}
